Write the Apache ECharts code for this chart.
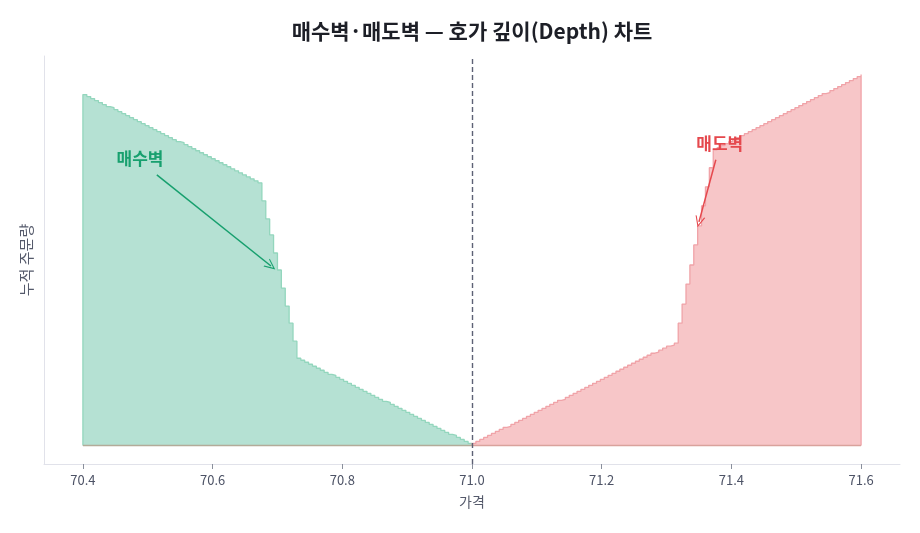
<!DOCTYPE html>
<html>
<head>
<meta charset="utf-8">
<script src="https://cdn.jsdelivr.net/npm/echarts@6/dist/echarts.min.js"></script>
<style>
  html, body { margin: 0; padding: 0; background: #fff; }
  #chart { width: 920px; height: 533px; }
</style>
</head>
<body>
<div id="chart"></div>
<script>
// price grid
var priceTick = 0.006;
var bidStart = 70.4;   // lowest bid level shown
var askStart = 71.0;   // best ask level
var midPrice = 71.0;
var xTicks = [70.4, 70.6, 70.8, 71.0, 71.2, 71.4, 71.6];

// cumulative bid depth, ascending price 70.4 -> 71.0
var bidDepth = [
    350, 348, 346, 344, 342, 340, 338, 337, 335, 333,
    331, 329, 327, 325, 323, 321, 319, 317, 315, 313,
    311, 309, 307, 305, 303, 302, 300, 298, 296, 294,
    292, 290, 288, 286, 284, 282, 280, 278, 276, 274,
    272, 270, 268, 266, 264, 262,
    244, 226, 210, 192, 175, 157, 139, 122, 104, 87,
    85, 83, 81, 79, 77, 75, 73, 71, 70, 68,
    66, 64, 62, 60, 58, 56, 54, 52, 50, 48,
    46, 44, 43, 41, 39, 37, 35, 33, 31, 29,
    27, 25, 23, 21, 19, 17, 15, 13, 11, 10,
    8, 6, 4, 2, 0
];

// cumulative ask depth, ascending price 71.0 -> 71.6
var askDepth = [
    2, 4, 6, 8, 10, 12, 14, 16, 18, 19,
    21, 23, 25, 27, 29, 31, 33, 35, 37, 39,
    41, 43, 45, 46, 48, 50, 52, 54, 56, 58,
    60, 62, 64, 66, 68, 70, 72, 74, 76, 78,
    80, 82, 84, 86, 88, 90, 92, 93, 95, 97,
    99, 100, 102,
    122, 141, 161, 180, 200, 219, 239, 258, 277, 295,
    297, 299, 301, 303, 305, 307, 309, 311, 313, 315,
    317, 319, 321, 323, 325, 327, 329, 331, 333, 335,
    337, 339, 341, 343, 345, 347, 349, 351, 352, 354,
    356, 358, 360, 362, 364, 366, 368, 370
];

// annotations: [price, depth]
var bidWallText = [70.488, 286];
var bidWallArrow = [[70.514, 270], [70.690, 179]];
var askWallText = [71.382, 301];
var askWallArrow = [[71.376, 285], [71.350, 223]];

var maxDepth = 370;

var bidData = [[bidStart, 0]];
for (var i = 0; i < bidDepth.length; i++) {
    bidData.push([+(bidStart + i * priceTick).toFixed(3), bidDepth[i]]);
}
var askData = [[askStart, 0]];
for (var k = 0; k < askDepth.length; k++) {
    askData.push([+(askStart + k * priceTick).toFixed(3), askDepth[k]]);
}
askData.push([askData[askData.length - 1][0], 0]);

var FONT = '"Noto Sans CJK KR", "Noto Sans", sans-serif';
var chevron = 'path://M0,0 L6,11 L4.6,11 L0,2.6 L-4.6,11 L-6,11 Z';

var chart = echarts.init(document.getElementById('chart'));
chart.setOption({
    animation: false,
    backgroundColor: '#ffffff',
    title: {
        text: '매수벽·매도벽 — 호가 깊이(Depth) 차트',
        left: 467,
        top: 16,
        textAlign: 'center',
        textStyle: {
            fontFamily: FONT,
            fontSize: 21,
            fontWeight: 'bold',
            color: '#1d1f27'
        }
    },
    grid: { left: 44, right: 20, top: 56, bottom: 69 },
    xAxis: {
        type: 'value',
        min: 70.34,
        max: 71.66,
        name: '가격',
        nameLocation: 'middle',
        nameGap: 31,
        nameTextStyle: { fontFamily: FONT, fontSize: 14, color: '#555a6b' },
        axisLine: { onZero: false, lineStyle: { color: '#e1e2ea', width: 1 } },
        axisTick: { show: true, customValues: xTicks, length: 5, lineStyle: { color: '#8a8f9c' } },
        axisLabel: {
            customValues: xTicks,
            margin: 10,
            fontFamily: FONT,
            fontSize: 13,
            color: '#4d5366',
            formatter: function (v) { return v.toFixed(1); }
        },
        splitLine: { show: false }
    },
    yAxis: {
        type: 'value',
        min: -maxDepth * 0.05,
        max: maxDepth * 1.05,
        name: '누적 주문량',
        nameLocation: 'middle',
        nameGap: 10,
        nameTextStyle: { fontFamily: FONT, fontSize: 15, color: '#555a6b' },
        axisLine: { show: true, onZero: false, lineStyle: { color: '#e1e2ea', width: 1 } },
        axisTick: { show: false },
        axisLabel: { show: false },
        splitLine: { show: false }
    },
    series: [
        {
            name: '매수',
            type: 'line',
            step: 'end',
            data: bidData,
            showSymbol: false,
            lineStyle: { color: '#93d6bd', width: 1.3 },
            areaStyle: { color: '#b5e1d3', opacity: 1 },
            z: 2,
            markPoint: {
                symbol: 'circle',
                symbolSize: 0,
                label: {
                    show: true,
                    position: 'inside',
                    formatter: '매수벽',
                    fontFamily: FONT,
                    fontSize: 17,
                    fontWeight: 'bold',
                    color: '#17a06e'
                },
                data: [{ coord: bidWallText }]
            },
            markLine: {
                silent: true,
                symbol: ['none', chevron],
                symbolSize: [10, 11],
                label: { show: false },
                lineStyle: { color: '#17a06e', width: 1.5, type: 'solid' },
                data: [[{ coord: bidWallArrow[0] }, { coord: bidWallArrow[1] }]]
            }
        },
        {
            name: '매도',
            type: 'line',
            step: 'end',
            data: askData,
            showSymbol: false,
            lineStyle: { color: '#f0a3a8', width: 1.3 },
            areaStyle: { color: '#f7c6c8', opacity: 1 },
            z: 2,
            markPoint: {
                symbol: 'circle',
                symbolSize: 0,
                label: {
                    show: true,
                    position: 'inside',
                    formatter: '매도벽',
                    fontFamily: FONT,
                    fontSize: 17,
                    fontWeight: 'bold',
                    color: '#e5484d'
                },
                data: [{ coord: askWallText }]
            },
            markLine: {
                silent: true,
                symbol: ['none', chevron],
                symbolSize: [10, 11],
                label: { show: false },
                lineStyle: { color: '#e5484d', width: 1.5, type: 'solid' },
                data: [[{ coord: askWallArrow[0] }, { coord: askWallArrow[1] }]]
            }
        },
        {
            name: 'base-bid',
            type: 'line',
            data: [[bidStart, 0], [midPrice, 0]],
            showSymbol: false,
            lineStyle: { color: '#b3ab99', width: 1.5 },
            z: 3
        },
        {
            name: 'base-ask',
            type: 'line',
            data: [[midPrice, 0], [askData[askData.length - 1][0], 0]],
            showSymbol: false,
            lineStyle: { color: '#d9a29c', width: 1.5 },
            z: 3,
            markLine: {
                silent: true,
                symbol: ['none', 'none'],
                label: { show: false },
                lineStyle: { color: '#5d6175', width: 1.4, type: [5, 3] },
                data: [{ xAxis: midPrice }]
            }
        }
    ]
});
</script>
</body>
</html>
